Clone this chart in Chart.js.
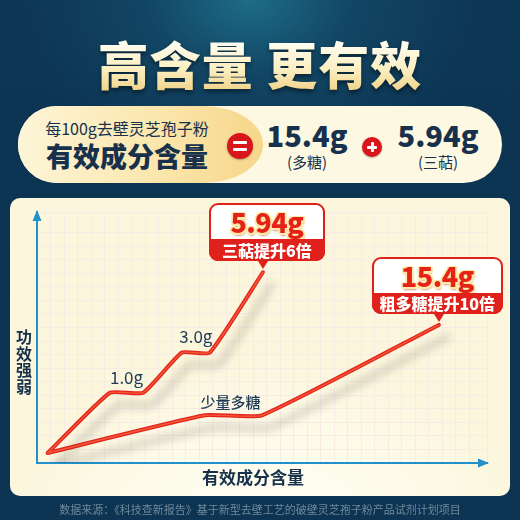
<!DOCTYPE html>
<html>
<head>
<meta charset="utf-8">
<script src="https://cdn.jsdelivr.net/npm/chart.js@4.4.1/dist/chart.umd.min.js"></script>
<style>
body { margin: 0; }
#page {
    position: relative; width: 520px; height: 520px; overflow: hidden;
    font-family: "Noto Sans CJK SC", "Noto Sans", sans-serif;
    background:
        radial-gradient(ellipse 230px 170px at 250px 0px, #1d6c88 0%, rgba(22,85,115,0.5) 45%, rgba(14,55,85,0) 100%),
        linear-gradient(180deg, #0d3654 0%, #0c3352 50%, #0d3452 100%);
}
.abs { position: absolute; }
#title {
    left: 0; width: 520px; top: 29px; text-align: center;
    font-size: 51px; font-weight: 900; letter-spacing: 1px; line-height: 68px;
    background: linear-gradient(180deg, #fffdf0 20%, #fbeec0 60%, #eccb7a 100%);
    -webkit-background-clip: text; background-clip: text; color: transparent;
    filter: drop-shadow(0 3px 2px rgba(0,0,0,0.45));
}
#pill {
    left: 18px; top: 106px; width: 484px; height: 77px; border-radius: 39px; overflow: hidden;
    background: #fdf8e2;
}
#pillLeft {
    left: 0; top: 0; width: 245px; height: 77px; border-radius: 0 60px 60px 0 / 0 50% 50% 0;
    background: linear-gradient(90deg, #fdf5d8 0%, #fbe7ae 55%, #f7d68a 100%);
}
.navy { color: #17314c; }
.circle {
    border-radius: 50%; background: #d9161c;
    box-shadow: 0 1px 2px rgba(0,0,0,0.3);
}
.bar { background: #fff; border-radius: 1px; }
#panel {
    left: 10px; top: 198px; width: 500px; height: 298px; border-radius: 10px;
    background: radial-gradient(ellipse 260px 160px at 260px 320px, #fffef4 0%, #fdfae8 60%, #fbf6dc 100%);
}
#chartWrap { left: 0; top: 0; width: 520px; height: 520px; }
.callout {
    position: absolute; border: 2px solid #e0201a; border-radius: 9px; background: #fff;
    box-sizing: border-box; text-align: center;
}
.callout .val {
    font-weight: 900; color: #e4221a; font-size: 27px; line-height: 34px; letter-spacing: -0.5px;
    text-shadow: 1.5px 0 0 #fde9a8, -1.5px 0 0 #fde9a8, 0 1.5px 0 #fde9a8, 0 -1.5px 0 #fde9a8,
        1.5px 1.5px 0 #fde9a8, -1.5px -1.5px 0 #fde9a8, 1.5px -1.5px 0 #fde9a8, -1.5px 1.5px 0 #fde9a8,
        1px 3px 2px rgba(150,30,0,0.45);
}
.callout .band {
    position: absolute; left: -2px; right: -2px; bottom: -2px; background: #e0201a;
    border-radius: 0 0 9px 9px; color: #fff; font-weight: 900; font-size: 16px;
}
.callout .tip {
    position: absolute; width: 0; height: 0; border-left: 5px solid transparent;
    border-right: 5px solid transparent; border-top: 8px solid #e0201a;
}
.note { position: absolute; color: #1d3a57; white-space: nowrap; transform: translate(-50%, -50%); }
</style>
</head>
<body>
<div id="page">
    <div id="title" class="abs">高含量 更有效</div>

    <div id="pill" class="abs">
        <div id="pillLeft" class="abs"></div>
        <div class="abs navy" style="left:0;width:218px;top:12px;text-align:center;font-size:16px;line-height:20px;">每100g去壁灵芝孢子粉</div>
        <div class="abs navy" style="left:0;width:218px;top:33px;text-align:center;font-size:27px;font-weight:900;line-height:34px;">有效成分含量</div>
        <div class="abs circle" style="left:209px;top:27px;width:26px;height:26px;">
            <div class="abs bar" style="left:6px;top:8px;width:14px;height:3px;"></div>
            <div class="abs bar" style="left:6px;top:15px;width:14px;height:3px;"></div>
        </div>
        <div class="abs navy" style="left:239px;width:100px;top:11px;text-align:center;font-size:29px;font-weight:900;line-height:34px;">15.4g</div>
        <div class="abs navy" style="left:239px;width:100px;top:46px;text-align:center;font-size:15px;line-height:20px;">(多糖)</div>
        <div class="abs circle" style="left:344px;top:31px;width:20px;height:20px;">
            <div class="abs bar" style="left:5px;top:8.5px;width:10px;height:3px;"></div>
            <div class="abs bar" style="left:8.5px;top:5px;width:3px;height:10px;"></div>
        </div>
        <div class="abs navy" style="left:370px;width:100px;top:11px;text-align:center;font-size:29px;font-weight:900;line-height:34px;">5.94g</div>
        <div class="abs navy" style="left:370px;width:100px;top:46px;text-align:center;font-size:15px;line-height:20px;">(三萜)</div>
    </div>

    <div id="panel" class="abs"></div>
    <div id="chartWrap" class="abs"><canvas id="chart" width="520" height="520"></canvas></div>

    <div class="abs navy" style="left:15px;top:328px;width:18px;font-size:16px;font-weight:700;line-height:16.5px;text-align:center;">功<br>效<br>强<br>弱</div>
    <div class="abs navy" style="left:153px;top:466px;width:200px;text-align:center;font-size:17px;font-weight:700;line-height:22px;">有效成分含量</div>

    <div id="notes"></div>

    <div class="abs" style="left:0;width:520px;top:501px;text-align:center;font-size:11px;color:#6f8a9c;line-height:16px;">数据来源：《科技查新报告》基于新型去壁工艺的破壁灵芝孢子粉产品试剂计划项目</div>
</div>

<script>
// chart units: x 0-100 along the horizontal axis, y 0-100 along the vertical axis
var terpeneX = [2.4, 16.2, 23.6, 32.2, 38.4, 50.2];
var terpeneY = [4, 28, 28, 44, 44, 76];
var polyX = [2.4, 37.3, 50, 89.3];
var polyY = [4, 19, 19, 55];
var stepLabels = ["1.0g", "3.0g"];
var polyLabel = "少量多糖";
var calloutValues = ["5.94g", "15.4g"];
var calloutTexts = ["三萜提升6倍", "粗多糖提升10倍"];

function toPoints(xs, ys) {
    var pts = [];
    for (var i = 0; i < xs.length; i++) {
        pts.push({ x: xs[i], y: ys[i] });
    }
    return pts;
}

var lineShadow = {
    id: "lineShadow",
    beforeDatasetDraw: function (chart, args) {
        if (chart.data.datasets[args.index].shadow) {
            var ctx = chart.ctx;
            ctx.save();
            ctx.shadowColor = "rgba(60,50,45,0.3)";
            ctx.shadowBlur = 9;
            ctx.shadowOffsetX = 9;
            ctx.shadowOffsetY = 12;
        }
    },
    afterDatasetDraw: function (chart, args) {
        if (chart.data.datasets[args.index].shadow) {
            chart.ctx.restore();
        }
    }
};

var axisArrows = {
    id: "axisArrows",
    afterDraw: function (chart) {
        var ctx = chart.ctx;
        var a = chart.chartArea;
        ctx.save();
        ctx.fillStyle = "#2191cc";
        ctx.beginPath();
        ctx.moveTo(a.left, a.top - 2);
        ctx.lineTo(a.left - 4.5, a.top + 9);
        ctx.lineTo(a.left + 4.5, a.top + 9);
        ctx.fill();
        ctx.beginPath();
        ctx.moveTo(a.right + 2, a.bottom);
        ctx.lineTo(a.right - 9, a.bottom - 4.5);
        ctx.lineTo(a.right - 9, a.bottom + 4.5);
        ctx.fill();
        ctx.restore();
    }
};

var chart = new Chart(document.getElementById("chart"), {
    type: "line",
    data: {
        datasets: [{
            data: toPoints(terpeneX, terpeneY),
            borderColor: "#f5573a",
            borderWidth: 1.4,
            order: 0
        }, {
            data: toPoints(polyX, polyY),
            borderColor: "#f5573a",
            borderWidth: 1.4,
            order: 0
        }, {
            data: toPoints(terpeneX, terpeneY),
            borderColor: "#e4251a",
            borderWidth: 4,
            shadow: true,
            order: 1
        }, {
            data: toPoints(polyX, polyY),
            borderColor: "#e4251a",
            borderWidth: 4,
            shadow: true,
            order: 1
        }]
    },
    options: {
        responsive: false,
        animation: false,
        layout: { padding: { left: 37, top: 212, right: 33, bottom: 57 } },
        elements: {
            point: { radius: 0 },
            line: { tension: 0.14, borderCapStyle: "round", borderJoinStyle: "round", fill: false }
        },
        plugins: { legend: { display: false }, tooltip: { enabled: false } },
        scales: {
            x: {
                type: "linear", min: 0, max: 100,
                ticks: { display: false, stepSize: 3 },
                grid: { color: "#f7ebe3", drawTicks: false },
                border: { display: true, color: "#2191cc", width: 2 }
            },
            y: {
                type: "linear", min: 0, max: 100,
                ticks: { display: false, stepSize: 5.4 },
                grid: { color: "#f7ebe3", drawTicks: false },
                border: { display: true, color: "#2191cc", width: 2 }
            }
        }
    },
    plugins: [lineShadow, axisArrows]
});

// place annotations from the data points
var sx = chart.scales.x;
var sy = chart.scales.y;
var notes = document.getElementById("notes");

function addNote(text, px, py, size, weight) {
    var d = document.createElement("div");
    d.className = "note";
    d.textContent = text;
    d.style.left = px + "px";
    d.style.top = py + "px";
    d.style.fontSize = size + "px";
    d.style.fontWeight = weight;
    notes.appendChild(d);
}

addNote(stepLabels[0], sx.getPixelForValue((terpeneX[1] + terpeneX[2]) / 2), sy.getPixelForValue(terpeneY[1]) - 17, 17, 400);
addNote(stepLabels[1], sx.getPixelForValue((terpeneX[3] + terpeneX[4]) / 2), sy.getPixelForValue(terpeneY[3]) - 18, 17, 400);
addNote(polyLabel, sx.getPixelForValue((polyX[1] + polyX[2]) / 2) - 3, sy.getPixelForValue(polyY[1]) - 14, 15, 500);

function addCallout(value, text, px, py, w, h, bandH, tipX) {
    var c = document.createElement("div");
    c.className = "callout";
    c.style.left = (px - tipX) + "px";
    c.style.top = (py - h - 11) + "px";
    c.style.width = w + "px";
    c.style.height = h + "px";
    var v = document.createElement("div");
    v.className = "val";
    v.textContent = value;
    v.style.height = (h - bandH - 2) + "px";
    v.style.lineHeight = (h - bandH - 2) + "px";
    var b = document.createElement("div");
    b.className = "band";
    b.textContent = text;
    b.style.height = bandH + "px";
    b.style.lineHeight = bandH + "px";
    var t = document.createElement("div");
    t.className = "tip";
    t.style.left = (tipX - 7) + "px";
    t.style.top = (h - 2) + "px";
    c.appendChild(v);
    c.appendChild(b);
    c.appendChild(t);
    notes.appendChild(c);
}

var n = terpeneX.length - 1;
addCallout(calloutValues[0], calloutTexts[0], sx.getPixelForValue(terpeneX[n]), sy.getPixelForValue(terpeneY[n]), 116, 58, 22, 54);
var m = polyX.length - 1;
addCallout(calloutValues[1], calloutTexts[1], sx.getPixelForValue(polyX[m]), sy.getPixelForValue(polyY[m]), 131, 57, 21, 67);
</script>
</body>
</html>
